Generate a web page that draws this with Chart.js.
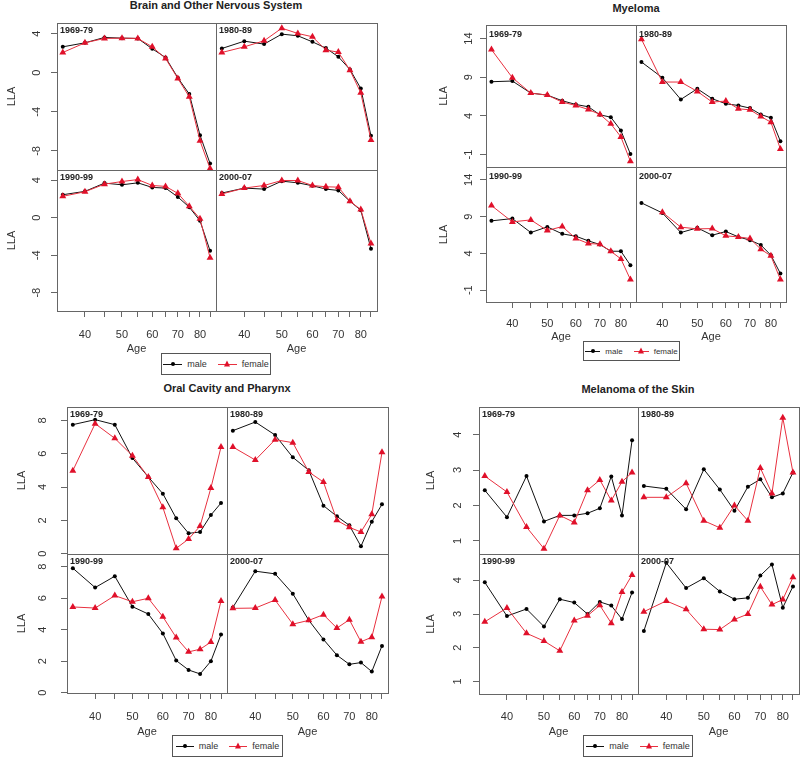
<!DOCTYPE html>
<html>
<head>
<meta charset="utf-8">
<script src="https://cdn.jsdelivr.net/npm/chart.js@4.4.0/dist/chart.umd.min.js"></script>
<style>
  body { margin: 0; background: #fff; }
  #page { position: relative; width: 800px; height: 759px; overflow: hidden;
          font-family: "Liberation Sans", Arial, sans-serif; color: #333; }
  #page canvas { position: absolute; }
  .title { position: absolute; font-weight: bold; font-size: 11px; color: #222;
           transform: translate(-50%, -50%); white-space: nowrap; }
  .strip { position: absolute; font-weight: bold; font-size: 9px; color: #222;
           transform: translateY(-50%); white-space: nowrap; }
  .legend { position: absolute; border: 1px solid #555; box-sizing: border-box;
            display: flex; align-items: center; justify-content: center; background: #fff; }
  .item { display: flex; align-items: center; }
  .item + .item { margin-left: 11px; }
  .sym { position: relative; height: 1px; }
  .dot { position: absolute; left: 50%; top: 50%; width: 4px; height: 4px; border-radius: 50%;
         background: #000; transform: translate(-50%, -50%); }
  .tri { position: absolute; left: 50%; top: 50%; width: 0; height: 0;
         border-left: 3.5px solid transparent; border-right: 3.5px solid transparent;
         border-bottom: 6px solid #e0102a; transform: translate(-50%, -60%); }
  .lab { margin-left: 5px; }
</style>
</head>
<body>
<div id="page"></div>
<script>
// ages on a log axis, ticks every 5 years, labels every 10
const ages = [35, 40, 45, 50, 55, 60, 65, 70, 75, 80, 85];
const xTicks = [40, 45, 50, 55, 60, 65, 70, 75, 80, 85];
const xLabels = [40, 50, 60, 70, 80];
const periods = ['1969-79', '1980-89', '1990-99', '2000-07'];

// Brain and Other Nervous System
const brainTicks = [-8, -4, 0, 4];
const brainMale = [
  [2.66, 3.07, 3.62, 3.55, 3.52, 2.46, 1.57, -0.51, -2.18, -6.38, -9.28],
  [2.49, 3.24, 2.94, 3.96, 3.79, 3.17, 2.53, 1.64, 0.34, -1.60, -6.45],
  [2.46, 2.82, 3.70, 3.52, 3.73, 3.24, 3.17, 2.22, 1.13, -0.32, -3.52],
  [2.64, 3.17, 3.06, 3.91, 3.73, 3.42, 3.06, 2.92, 1.76, 0.81, -3.31]
];
const brainFemale = [
  [2.08, 3.07, 3.52, 3.55, 3.52, 2.66, 1.47, -0.58, -2.46, -6.96, -9.80],
  [2.08, 2.66, 3.28, 4.57, 4.03, 3.69, 2.32, 2.12, 0.27, -2.05, -6.89],
  [2.29, 2.78, 3.59, 3.87, 4.08, 3.45, 3.35, 2.61, 1.23, -0.11, -4.26],
  [2.54, 3.17, 3.45, 3.98, 3.98, 3.45, 3.31, 3.27, 1.76, 0.88, -2.75]
];

// Myeloma
const myelomaTicks = [-1, 4, 9, 14];
const myelomaMale = [
  [8.42, 8.51, 6.95, 6.69, 5.96, 5.48, 5.18, 4.14, 3.84, 2.11, -0.92],
  [10.97, 8.94, 6.13, 7.51, 6.22, 5.57, 5.35, 5.01, 4.19, 3.75, 0.73],
  [8.43, 8.74, 6.84, 7.61, 6.66, 6.34, 5.71, 5.21, 4.30, 4.30, 2.40],
  [10.87, 9.51, 6.84, 7.48, 6.48, 6.98, 6.25, 5.80, 5.16, 3.76, 1.27]
];
const myelomaFemale = [
  [12.57, 8.94, 6.95, 6.69, 5.79, 5.35, 4.83, 4.19, 2.98, 1.29, -1.87],
  [13.91, 8.38, 8.38, 7.17, 5.79, 5.92, 4.92, 4.79, 3.93, 3.19, -0.27],
  [10.51, 8.29, 8.56, 7.11, 7.66, 6.03, 5.35, 5.26, 4.30, 3.26, 0.45],
  [null, 9.60, 7.57, 7.34, 7.38, 6.39, 6.25, 6.03, 4.58, 3.67, 0.45]
];

// Oral Cavity and Pharynx
const oralTicks = [0, 2, 4, 6, 8];
const oralMale = [
  [7.74, 8.04, 7.74, 5.74, 4.60, 3.60, 2.12, 1.22, 1.30, 2.32, 3.04],
  [7.38, 7.90, 7.12, 5.78, 5.00, 2.88, 2.24, 1.70, 0.44, 1.92, 2.96],
  [7.90, 6.67, 7.39, 5.46, 4.99, 3.76, 2.04, 1.44, 1.19, 2.00, 3.69],
  [5.41, 7.71, 7.54, 6.28, 4.59, 3.38, 2.38, 1.80, 1.91, 1.34, 2.97]
];
const oralFemale = [
  [4.98, 7.80, 6.92, 5.88, 4.60, 2.78, 0.32, 0.88, 1.66, 3.94, 6.40],
  [6.40, 5.62, 6.84, 6.66, 4.90, 4.30, 2.00, 1.58, 1.30, 2.36, 6.08],
  [5.44, 5.37, 6.16, 5.77, 5.99, 4.82, 3.50, 2.59, 2.76, 3.21, 5.82],
  [5.35, 5.37, 5.88, 4.35, 4.59, 4.95, 4.10, 4.63, 3.23, 3.52, 6.10]
];

// Melanoma of the Skin
const melanomaTicks = [1, 2, 3, 4];
const melanomaMale = [
  [2.43, 1.67, 2.83, 1.55, 1.72, 1.72, 1.78, 1.92, 2.82, 1.72, 3.84],
  [2.55, 2.47, 1.89, 3.02, 2.45, 1.85, 2.53, 2.74, 2.23, 2.34, 2.93],
  [3.94, 2.94, 3.15, 2.63, 3.44, 3.34, 3.00, 3.36, 3.25, 2.85, 3.64],
  [2.50, 4.52, 3.77, 4.06, 3.67, 3.44, 3.48, 4.14, 4.47, 3.19, 3.82]
];
const melanomaFemale = [
  [2.83, 2.38, 1.39, 0.78, 1.72, 1.52, 2.43, 2.72, 2.14, 2.67, 2.93],
  [2.23, 2.23, 2.63, 1.57, 1.37, 2.00, 1.57, 3.06, 2.34, 4.48, 2.93],
  [2.77, 3.18, 2.43, 2.20, 1.91, 2.81, 2.95, 3.26, 2.73, 3.65, 4.16],
  [3.07, 3.39, 3.14, 2.55, 2.54, 2.84, 3.00, 3.81, 3.28, 3.43, 4.09]
];

const MALE = '#111';
const FEMALE = '#e0102a';
const FEMALE_LINE = '#e8303f';
const AXIS = '#666';
const TEXT = '#333';
const YW = 60;   // room left of the left column
const XH = 46;   // room under the bottom row
const EXTRA = 8; // top row canvases reach a bit lower so edge tick labels are not cut
const TL = 6;    // tick length
const FS = 11;
const LH = FS * 1.2;
const X_MIN = 33.8, X_MAX = 88.1;

Chart.defaults.font.family = '"Liberation Sans", Arial, sans-serif';
Chart.defaults.font.size = FS;
Chart.defaults.color = TEXT;

const panels = [
  { title: 'Brain and Other Nervous System', male: brainMale, female: brainFemale, yTicks: brainTicks,
    yMin: -9.95, yMax: 5.1, xs: [57, 216, 377], ys: [23, 170, 311], titleAt: [216, 5], stripDy: 7,
    tickOff: 20, llaOff: 45, labOff: 24, ageOff: 38, legend: [161, 353, 110, 22], legendFont: 9, sym: 19 },
  { title: 'Myeloma', male: myelomaMale, female: myelomaFemale, yTicks: myelomaTicks,
    yMin: -2.6, yMax: 15.75, xs: [486, 636, 786], ys: [25, 167, 302], titleAt: [636, 8], stripDy: 9,
    tickOff: 17, llaOff: 42, labOff: 22, ageOff: 35, legend: [583, 341, 97, 20], legendFont: 8, sym: 15 },
  { title: 'Oral Cavity and Pharynx', male: oralMale, female: oralFemale, yTicks: oralTicks,
    yMin: -0.02, yMax: 8.8, xs: [67, 227, 388], ys: [407, 554, 693], titleAt: [227, 388], stripDy: 7,
    tickOff: 24, llaOff: 45, labOff: 24, ageOff: 39, legend: [172, 735, 111, 22], legendFont: 9, sym: 18 },
  { title: 'Melanoma of the Skin', male: melanomaMale, female: melanomaFemale, yTicks: melanomaTicks,
    yMin: 0.63, yMax: 4.78, xs: [479, 638, 799], ys: [407, 554, 694], titleAt: [638, 389], stripDy: 7,
    tickOff: 21, llaOff: 48, labOff: 23, ageOff: 38, legend: [583, 735, 110, 22], legendFont: 9, sym: 18 }
];

const page = document.getElementById('page');
const measure = document.createElement('canvas').getContext('2d');
measure.font = FS + 'px "Liberation Sans", Arial, sans-serif';

const frame = {
  id: 'frame',
  afterDraw(chart) {
    const { ctx, chartArea: a } = chart;
    ctx.save();
    ctx.strokeStyle = AXIS;
    ctx.lineWidth = 1;
    ctx.strokeRect(a.left + 0.5, a.top + 0.5, a.right - a.left, a.bottom - a.top);
    ctx.restore();
  }
};

function addDiv(cls, text, left, top) {
  const d = document.createElement('div');
  d.className = cls;
  d.textContent = text;
  d.style.left = left + 'px';
  d.style.top = top + 'px';
  page.appendChild(d);
  return d;
}

function makeChart(p, k) {
  const col = k % 2, row = Math.floor(k / 2);
  const x0 = p.xs[col], x1 = p.xs[col + 1], y0 = p.ys[row], y1 = p.ys[row + 1];
  const left = col === 0 ? x0 - YW : x0;
  const w = x1 - left + 1;
  const h = row === 1 ? (y1 - y0) + XH : (y1 - y0) + 1 + EXTRA;

  const cv = document.createElement('canvas');
  cv.width = w; cv.height = h;
  cv.style.left = left + 'px'; cv.style.top = y0 + 'px';
  cv.style.width = w + 'px'; cv.style.height = h + 'px';
  page.appendChild(cv);

  const widest = Math.max(...p.yTicks.map(v => measure.measureText(String(v)).width));

  new Chart(cv, {
    type: 'line',
    data: {
      datasets: [
        { label: 'female', data: ages.map((a, i) => ({ x: a, y: p.female[k][i] })),
          borderColor: FEMALE_LINE, backgroundColor: FEMALE, borderWidth: 1,
          pointStyle: 'triangle', pointRadius: 4, pointBorderWidth: 0, order: 0 },
        { label: 'male', data: ages.map((a, i) => ({ x: a, y: p.male[k][i] })),
          borderColor: MALE, backgroundColor: '#000', borderWidth: 1,
          pointStyle: 'circle', pointRadius: 2, pointBorderWidth: 0, order: 1 }
      ]
    },
    options: {
      responsive: false,
      animation: false,
      devicePixelRatio: 1,
      layout: { autoPadding: false,
                padding: { left: 0, top: 0, right: 1, bottom: row === 0 ? 1 + EXTRA : 0 } },
      plugins: { legend: { display: false }, tooltip: { enabled: false } },
      scales: {
        x: {
          type: 'logarithmic', min: X_MIN, max: X_MAX, bounds: 'data',
          display: row === 1,
          afterBuildTicks: s => { s.ticks = xTicks.map(v => ({ value: v })); },
          afterFit: s => { if (row === 1) s.height = XH; s.paddingLeft = 0; s.paddingRight = 0; },
          grid: { display: true, drawOnChartArea: false, drawTicks: true, tickLength: TL, color: AXIS },
          border: { display: false },
          ticks: { autoSkip: false, minRotation: 0, maxRotation: 0, padding: p.labOff - TL - LH / 2,
                   color: TEXT, callback: v => xLabels.includes(v) ? String(v) : '' },
          title: { display: true, text: 'Age', color: TEXT,
                   padding: { top: 0, bottom: XH - p.ageOff - LH / 2 } }
        },
        y: {
          type: 'linear', min: p.yMin, max: p.yMax, bounds: 'data',
          display: col === 0,
          afterBuildTicks: s => { s.ticks = p.yTicks.map(v => ({ value: v })); },
          afterFit: s => { if (col === 0) s.width = YW; s.paddingTop = 0; s.paddingBottom = 0; },
          grid: { display: true, drawOnChartArea: false, drawTicks: true, tickLength: TL, color: AXIS },
          border: { display: false },
          ticks: { autoSkip: false, minRotation: 90, maxRotation: 90, crossAlign: 'center',
                   padding: p.tickOff - TL - widest / 2, color: TEXT, callback: v => String(v) },
          title: { display: true, text: 'LLA', color: TEXT,
                   padding: { top: YW - p.llaOff - LH / 2, bottom: 0 } }
        }
      }
    },
    plugins: [frame]
  });

  addDiv('strip', periods[k], x0 + 3, y0 + p.stripDy);
}

function makeLegend(p) {
  const [lx, ly, lw, lh] = p.legend;
  const box = document.createElement('div');
  box.className = 'legend';
  box.style.left = lx + 'px'; box.style.top = ly + 'px';
  box.style.width = lw + 'px'; box.style.height = lh + 'px';
  box.style.fontSize = p.legendFont + 'px';
  [['male', MALE, 'dot'], ['female', FEMALE_LINE, 'tri']].forEach(([name, color, mark]) => {
    const item = document.createElement('div');
    item.className = 'item';
    const sym = document.createElement('span');
    sym.className = 'sym';
    sym.style.width = p.sym + 'px';
    sym.style.background = color;
    const m = document.createElement('span');
    m.className = mark;
    sym.appendChild(m);
    const lab = document.createElement('span');
    lab.className = 'lab';
    lab.textContent = name;
    item.appendChild(sym);
    item.appendChild(lab);
    box.appendChild(item);
  });
  page.appendChild(box);
}

panels.forEach(p => {
  addDiv('title', p.title, p.titleAt[0], p.titleAt[1]);
  for (let k = 0; k < 4; k++) makeChart(p, k);
  makeLegend(p);
});
</script>
</body>
</html>
